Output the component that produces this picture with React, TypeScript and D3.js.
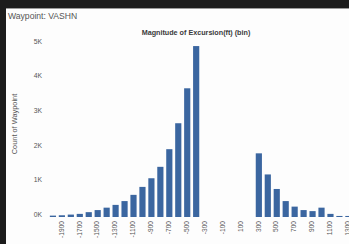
import React from "react";
import * as d3 from "d3";

// excursion bins (ft) and waypoint counts
const bins = [
  -2000, -1900, -1800, -1700, -1600, -1500, -1400, -1300, -1200, -1100, -1000,
  -900, -800, -700, -600, -500, -400, -300, -200, -100, 0, 100, 200, 300, 400,
  500, 600, 700, 800, 900, 1000, 1100, 1200, 1300,
];
const counts = [
  40, 50, 70, 90, 140, 200, 270, 350, 460, 640, 870, 1120, 1450, 1960, 2710,
  3720, 4940, 0, 0, 0, 0, 0, 0, 1840, 1230, 810, 460, 300, 200, 170, 270, 90,
  30, 30,
];
const xTickLabels = [
  -1900, -1700, -1500, -1300, -1100, -900, -700, -500, -300, -100, 100, 300,
  500, 700, 900, 1100, 1300,
];
const yTicks = [0, 1000, 2000, 3000, 4000, 5000];

const W = 349;
const H = 244;
const font = "'Liberation Sans', Arial, sans-serif";

export default function App() {
  const x = d3
    .scaleBand<number>()
    .domain(bins)
    .range([48.5, 48.5 + bins.length * 8.95])
    .paddingInner(0.31)
    .paddingOuter(0.15);

  const y = d3.scaleLinear().domain([0, 5000]).range([217, 44]);

  return (
    <svg
      width={W}
      height={H}
      style={{ position: "absolute", left: 0, top: 0, display: "block" }}
      fontFamily={font}
    >
      {/* dark frame around the card */}
      <rect x={0} y={0} width={W} height={H} fill="#1c1c1c" />
      <rect x={6} y={8} width={W - 6} height={H - 8} fill="#fdfdfd" />
      <line x1={6} x2={W} y1={8.5} y2={8.5} stroke="#9a9a9a" strokeWidth={1} />

      <text x={8} y={19} fontSize={8.6} fill="#555">
        Waypoint: VASHN
      </text>
      <text
        x={196}
        y={35}
        fontSize={7.2}
        fontWeight={600}
        fill="#3a3a3a"
        textAnchor="middle"
      >
        Magnitude of Excursion(ft) (bin)
      </text>

      <text
        transform={`translate(17,124) rotate(-90)`}
        fontSize={7.4}
        fill="#555"
        textAnchor="middle"
      >
        Count of Waypoint
      </text>

      {yTicks.map((t) => (
        <text
          key={t}
          x={42}
          y={y(t) - 2}
          fontSize={6.8}
          fill="#555"
          textAnchor="end"
          dominantBaseline="middle"
        >
          {t / 1000 + "K"}
        </text>
      ))}

      {bins.map((b, i) =>
        counts[i] > 0 ? (
          <rect
            key={b}
            x={x(b)}
            y={y(counts[i])}
            width={x.bandwidth()}
            height={y(0) - y(counts[i])}
            fill="#3b66a0"
          />
        ) : null
      )}

      {xTickLabels.map((t) => (
        <text
          key={t}
          transform={`translate(${(x(t) ?? 0) + x.bandwidth() / 2},221) rotate(-90)`}
          fontSize={6.6}
          fill="#555"
          textAnchor="end"
          dominantBaseline="middle"
        >
          {t}
        </text>
      ))}
    </svg>
  );
}
